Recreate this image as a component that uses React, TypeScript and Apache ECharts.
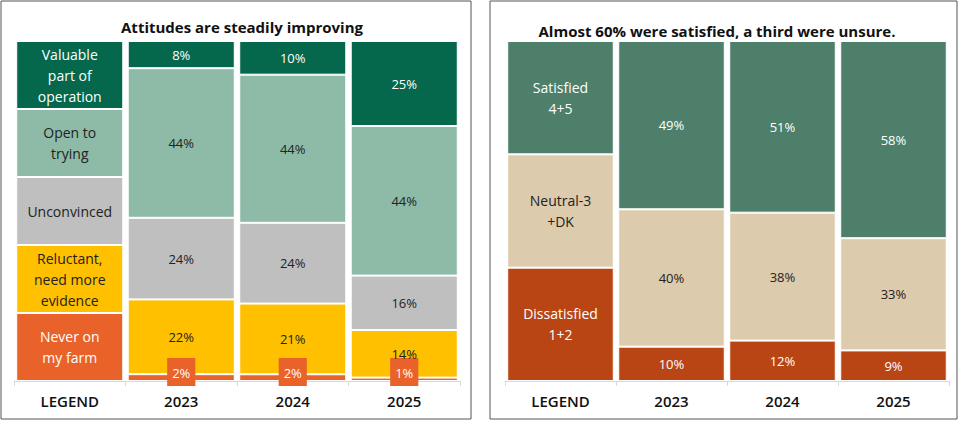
import React, { useEffect, useRef } from "react";
import * as echarts from "echarts";

const years = ["LEGEND", "2023", "2024", "2025"];
// Left chart (bottom to top)
const leftNames = ["Never on\nmy farm", "Reluctant,\nneed more\nevidence", "Unconvinced", "Open to\ntrying", "Valuable\npart of\noperation"];
const leftColors = ["#E8622A", "#FFC000", "#BFBFBF", "#8DBBA8", "#05674B"];
const leftText = ["#fff", "#222", "#222", "#222", "#fff"];
const never = [2, 2, 1];
const reluctant = [22, 21, 14];
const unconvinced = [24, 24, 16];
const openTo = [44, 44, 44];
const valuable = [8, 10, 25];
// Right chart (bottom to top)
const rightNames = ["Dissatisfied\n1+2", "Neutral-3\n+DK", "Satisfied\n4+5"];
const rightColors = ["#B94514", "#DDCBAD", "#4E7F6A"];
const rightText = ["#fff", "#222", "#fff"];
const dissatisfied = [10, 12, 9];
const neutral = [40, 38, 33];
const satisfied = [49, 51, 58];

const FONT = "Open Sans";

function buildSeries(groups: number[][], names: string[], colors: string[], texts: string[], idx: number) {
  const totals = groups[0].map((_, i) => groups.reduce((s, g) => s + g[i], 0));
  const legendVal = 100 / groups.length;
  return groups.map((g, k) => ({
    type: "bar",
    stack: "s" + idx,
    xAxisIndex: idx,
    yAxisIndex: idx,
    barCategoryGap: "4%",
    itemStyle: { color: colors[k], borderColor: "#fff", borderWidth: 1 },
    label: {
      show: true,
      color: texts[k],
      fontFamily: FONT,
      fontSize: 13,
      lineHeight: 21,
      formatter: (p: any) => (p.dataIndex === 0 ? names[k] : p.data.raw + "%"),
    },
    data: [
      { value: legendVal, raw: 0, label: { fontSize: 14 } },
      ...g.map((v, i) => {
        const item: any = { value: (v / totals[i]) * 100, raw: v };
        if (idx === 0 && k === 0) {
          item.label = {
            position: "insideBottom",
            offset: [0, 10],
            backgroundColor: "#E8622A",
            color: "#fff",
            padding: [4, 5, 3, 5],
          };
        }
        return item;
      }),
    ],
  }));
}

export default function App() {
  const ref = useRef<HTMLDivElement>(null);
  useEffect(() => {
    const chart = echarts.init(ref.current!, null, { renderer: "svg" });
    const xAxis = (gi: number) => ({
      type: "category",
      gridIndex: gi,
      data: years,
      axisLine: { lineStyle: { color: "#d9d9d9" } },
      axisTick: { show: true, lineStyle: { color: "#d9d9d9" } },
      axisLabel: { color: "#111", fontFamily: FONT, fontSize: 15, fontWeight: 600, margin: 12 },
    });
    const yAxis = (gi: number) => ({ type: "value", gridIndex: gi, min: 0, max: 100, show: false });
    chart.setOption({
      animation: false,
      backgroundColor: "#fff",
      title: [
        { text: "Attitudes are steadily improving", left: 237, top: 14, textAlign: "center", textStyle: { fontFamily: FONT, fontSize: 15, fontWeight: "bold", color: "#111" } },
        { text: "Almost 60% were satisfied, a third were unsure.", left: 712, top: 18, textAlign: "center", textStyle: { fontFamily: FONT, fontSize: 15, fontWeight: "bold", color: "#111" } },
      ],
      grid: [
        { left: 14, width: 446, top: 41, height: 340 },
        { left: 505, width: 444, top: 41, height: 340 },
      ],
      xAxis: [xAxis(0), xAxis(1)],
      yAxis: [yAxis(0), yAxis(1)],
      graphic: [
        { type: "rect", shape: { x: 1, y: 1, width: 470, height: 418 }, style: { fill: "none", stroke: "#555", lineWidth: 1 } },
        { type: "rect", shape: { x: 490, y: 1, width: 467, height: 418 }, style: { fill: "none", stroke: "#555", lineWidth: 1 } },
      ],
      series: [
        ...buildSeries([never, reluctant, unconvinced, openTo, valuable], leftNames, leftColors, leftText, 0),
        ...buildSeries([dissatisfied, neutral, satisfied], rightNames, rightColors, rightText, 1),
      ],
    });
    return () => chart.dispose();
  }, []);
  return <div ref={ref} style={{ position: "fixed", left: 0, top: 0, width: 960, height: 421 }} />;
}
